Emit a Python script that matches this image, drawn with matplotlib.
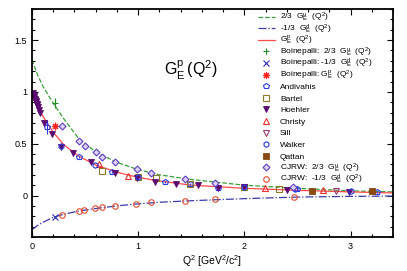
import matplotlib
matplotlib.use("Agg")
import matplotlib.pyplot as plt
from matplotlib.ticker import MultipleLocator, FixedLocator
from matplotlib.transforms import Bbox

plt.rcParams['font.family'] = ['Liberation Sans', 'DejaVu Sans']
plt.rcParams['mathtext.fontset'] = 'custom'
plt.rcParams['mathtext.rm'] = 'Liberation Sans'
plt.rcParams['mathtext.it'] = 'Liberation Sans:italic'

# fit curves
curve_q2 = [0.0, 0.05, 0.1, 0.2, 0.3, 0.44, 0.6, 0.8, 1.0, 1.2, 1.5, 2.0, 2.5, 3.0, 3.4]
gu_curve = [1.31, 1.17, 1.06, 0.89, 0.74, 0.55, 0.42, 0.32, 0.25, 0.20, 0.155, 0.10, 0.07, 0.045, 0.035]
gd_curve = [-0.33, -0.29, -0.26, -0.21, -0.18, -0.15, -0.125, -0.10, -0.08, -0.065, -0.05, -0.03, -0.015, -0.008, -0.005]
gp_curve = [1.0, 0.87, 0.77, 0.61, 0.49, 0.38, 0.295, 0.225, 0.175, 0.14, 0.10, 0.07, 0.05, 0.035, 0.025]

# data points
boin_q2 = [0.22]
boin_u = [0.89]
boin_u_err = [0.05]
boin_d = [-0.21]
boin_d_err = [0.01]
boin_p = [0.67]
boin_p_err = [0.035]

andi_q2 = [0.14, 0.44, 0.75, 1.25, 1.49, 1.75, 2.5, 3.25]
andi_g = [0.66, 0.375, 0.23, 0.135, 0.115, 0.075, 0.06, 0.03]
andi_err = [0.07, 0.01, 0.01, 0.01, 0.01, 0.01, 0.01, 0.01]

bartel_q2 = [0.66, 1.0, 1.17, 1.49, 2.0, 2.33]
bartel_g = [0.24, 0.18, 0.17, 0.115, 0.08, 0.06]

hoehler_q2 = [0.005, 0.01, 0.015, 0.02, 0.025, 0.03, 0.035, 0.04, 0.045, 0.05, 0.06,
              0.07, 0.08, 0.11, 0.19, 0.27, 0.39, 0.56, 0.78, 0.99, 1.16, 1.36, 1.56,
              1.75, 2.0, 2.40, 2.99]
hoehler_g = [0.985, 0.97, 0.96, 0.95, 0.935, 0.92, 0.91, 0.90, 0.885, 0.87, 0.85,
             0.83, 0.80, 0.70, 0.59, 0.47, 0.41, 0.32, 0.22, 0.17, 0.135, 0.115, 0.105,
             0.075, 0.08, 0.05, 0.035]

christy_q2 = [0.63, 0.90, 2.19, 2.74]
christy_g = [0.30, 0.19, 0.07, 0.05]

sill_q2 = [2.86]
sill_g = [0.04]

walker_q2 = [0.27, 0.59, 1.0, 2.0, 2.48, 3.0]
walker_g = [0.48, 0.29, 0.18, 0.08, 0.06, 0.04]

qattan_q2 = [2.64, 3.2]
qattan_g = [0.04, 0.04]

cjrw_u_q2 = [0.28, 0.44, 0.50, 0.60, 0.66, 0.78, 0.99, 1.12, 1.44, 1.72, 2.46]
cjrw_u = [0.67, 0.53, 0.48, 0.42, 0.375, 0.32, 0.255, 0.22, 0.16, 0.125, 0.08]
cjrw_d_q2 = [0.28, 0.44, 0.49, 0.59, 0.66, 0.78, 0.98, 1.12, 1.44, 1.72, 2.47]
cjrw_d = [-0.19, -0.15, -0.14, -0.125, -0.115, -0.10, -0.08, -0.06, -0.05, -0.035, -0.01]

x_ticks = [0, 1, 2, 3]
y_ticks = [0, 0.5, 1, 1.5]

fig = plt.figure(figsize=(4.07, 2.71), dpi=100)
ax = fig.add_axes([0.0786, 0.1255, 0.887, 0.8413])

ms = 4
h = []
h += ax.plot(curve_q2, gu_curve, '--', color='#3aa03a', lw=0.9, label=r'2/3  $\mathregular{G_E^u}$  $\mathregular{(Q^2)}$')
h += ax.plot(curve_q2, gd_curve, '-.', color='#3c3ca8', lw=0.9, label=r'-1/3  $\mathregular{G_E^d}$  $\mathregular{(Q^2)}$')
h += ax.plot(curve_q2, gp_curve, '-', color='#ff4a4a', lw=0.9, label=r'$\mathregular{G_E^p}$  $\mathregular{(Q^2)}$')

# error bars first, markers on top
ax.errorbar(boin_q2, boin_u, yerr=boin_u_err, fmt='none', ecolor='#1e8c1e', elinewidth=0.8)
ax.errorbar(boin_q2, boin_d, yerr=boin_d_err, fmt='none', ecolor='#2a2ab0', elinewidth=0.8)
ax.errorbar(boin_q2, boin_p, yerr=boin_p_err, fmt='none', ecolor='#ff2020', elinewidth=0.8)
ax.errorbar(andi_q2, andi_g, yerr=andi_err, fmt='none', ecolor='#2a3ce0', elinewidth=0.8)

h += ax.plot(boin_q2, boin_u, ls='none', marker='+', color='#1e8c1e', ms=ms + 1, mew=0.8,
             label=r'Boinepalli:  2/3  $\mathregular{G_E^u}$  $\mathregular{(Q^2)}$')
h += ax.plot(boin_q2, boin_d, ls='none', marker='x', color='#2a2ab0', ms=ms, mew=0.8,
             label=r'Boinepalli: -1/3  $\mathregular{G_E^d}$  $\mathregular{(Q^2)}$')
h += ax.plot(boin_q2, boin_p, ls='none', marker=(8, 2, 0), color='#ff2020', ms=ms + 1, mew=0.8,
             label=r'Boinepalli: $\mathregular{G_E^p}$  $\mathregular{(Q^2)}$')
h += ax.plot(andi_q2, andi_g, ls='none', marker='p', color='#2a3ce0', mfc='none', ms=ms, mew=0.8, label='Andivahis')
h += ax.plot(bartel_q2, bartel_g, ls='none', marker='s', color='#8c7a28', mfc='none', ms=ms, mew=0.8, label='Bartel')
h += ax.plot(hoehler_q2, hoehler_g, ls='none', marker='v', color='#5a0a70', ms=ms, mew=0.6, label='Hoehler')
h += ax.plot(christy_q2, christy_g, ls='none', marker='^', color='#ee3030', mfc='none', ms=ms, mew=0.8, label='Christy')
h += ax.plot(sill_q2, sill_g, ls='none', marker='v', color='#a03a78', mfc='none', ms=ms, mew=0.8, label='Sill')
h += ax.plot(walker_q2, walker_g, ls='none', marker='h', color='#2a3ce0', mfc='none', ms=ms, mew=0.8, label='Walker')
h += ax.plot(qattan_q2, qattan_g, ls='none', marker='s', color='#8b4a12', ms=ms, mew=0.6, label='Qattan')
h += ax.plot(cjrw_u_q2, cjrw_u, ls='none', marker='D', color='#6040c0', mfc='#ddd2f6', ms=ms - 0.5, mew=0.8,
             label=r'CJRW:  2/3  $\mathregular{G_E^u}$  $\mathregular{(Q^2)}$')
h += ax.plot(cjrw_d_q2, cjrw_d, ls='none', marker='o', color='#e05030', mfc='none', ms=ms, mew=0.8,
             label=r'CJRW:  -1/3  $\mathregular{G_E^d}$  $\mathregular{(Q^2)}$')

ax.text(1.5, 1.21, r'$\mathregular{G_E^p\,(Q^2)}$', fontsize=11.5, ha='center', va='center')

ax.set_xlim(0, 3.4)
ax.set_ylim(-0.4, 1.8)
ax.xaxis.set_major_locator(FixedLocator(x_ticks))
ax.xaxis.set_minor_locator(MultipleLocator(0.2))
ax.yaxis.set_major_locator(FixedLocator(y_ticks))
ax.yaxis.set_minor_locator(MultipleLocator(0.1))
ax.set_xticklabels([str(t) for t in x_ticks])
ax.set_yticklabels(['0', '0.5', '1', '1.5'])
ax.tick_params(which='both', direction='in', top=True, right=True, labelsize=6.5, width=0.8)
ax.tick_params(which='major', length=4)
ax.tick_params(which='minor', length=2)
for s in ax.spines.values():
    s.set_linewidth(1.3)

ax.set_xlabel(r'$\mathregular{Q^2}$ [$\mathregular{GeV^2/c^2}$]', fontsize=7.5, labelpad=2)

leg = ax.legend(handles=h, loc='upper left', bbox_to_anchor=(0.625, 0.99), frameon=False, fontsize=6.0,
                handlelength=2.1, handletextpad=0.6, labelspacing=0.0, borderaxespad=0.0, borderpad=0.0)

# gnuplot keys use a fixed row pitch; give every label the same box height
row_h, row_d = 11.6, 3.4
for col in leg._legend_handle_box.get_children():
    for row in col.get_children():
        tb = row.get_children()[1]
        orig = tb.get_bbox
        def fixed_bbox(renderer, orig=orig):
            b = orig(renderer)
            return Bbox.from_bounds(b.x0, -row_d, b.width, row_h)
        tb.get_bbox = fixed_bbox

fig.savefig('out.png', dpi=100)
